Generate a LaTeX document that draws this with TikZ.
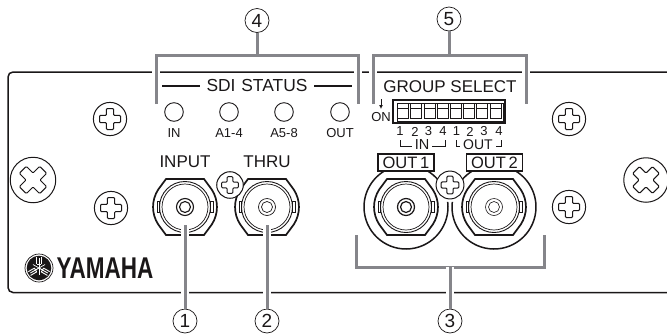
\documentclass[tikz,border=0pt]{standalone}
\usepackage{fontspec}
\usetikzlibrary{arrows.meta}
\setmainfont{Liberation Sans}
\definecolor{leadgray}{HTML}{85858A}
\definecolor{ink}{HTML}{1A1718}
\newcommand{\fs}[1]{\fontsize{#1}{#1}\selectfont}
\def\ringw{1.1pt}
\tikzset{
  x=1pt,y=1pt,
  panel/.style={draw=ink,line width=1.5pt},
  leader/.style={draw=leadgray,line width=3pt,preaction={draw=white,line width=8pt}},
  callout/.style={circle,draw=ink,line width=.7pt,fill=white,minimum size=24pt,inner sep=0pt,font=\fs{19}\color{ink}},
  lbl/.style={inner sep=0pt,text=ink},
  big/.style={lbl,font=\fs{17}},
  small/.style={lbl,font=\fs{13}},
  outbox/.style={draw=ink,line width=1.1pt,fill=white,inner sep=0pt,minimum width=56pt,minimum height=17pt,font=\fs{16.5},text=ink},
  screwhead/.pic={
    \draw[ink,line width=1pt,fill=white] (0,0) circle[radius=16.6];
    \draw[ink,line width=1pt,rounded corners=1pt] (-3.6,-3.6)--(-10.5,-3.6)--(-10.5,3.6)--(-3.6,3.6)--(-3.6,10.5)--(3.6,10.5)--(3.6,3.6)--(10.5,3.6)--(10.5,-3.6)--(3.6,-3.6)--(3.6,-10.5)--(-3.6,-10.5)--cycle;
  },
  bnc/.pic={
    \draw[ink,line width=1.7pt,fill=white] (-19,28)--(19,28)--(26.8,17.4) arc[start angle=33,end angle=-33,radius=32]--(19,-28)--(-19,-28)--(-26.8,-17.4) arc[start angle=213,end angle=147,radius=32]--cycle;
    \draw[ink,line width=.9pt] (0,0) circle[radius=25.5];
    \draw[ink,line width=.7pt] (0,0) circle[radius=23];
    \draw[ink,line width=.7pt,fill=white] (-28,-5.5) rectangle (-25.5,5.5) (25.5,-5.5) rectangle (28,5.5);
    \draw[ink,line width=\ringw] (0,0) circle[radius=8.5];
    \draw[ink,line width=\ringw] (0,0) circle[radius=5.5];
  },
}
\begin{document}
\begin{tikzpicture}
\useasboundingbox (0,0) rectangle (667,-333);
% panel
\draw[panel,rounded corners=5pt] (667,-72)--(8,-72)--(8,-292.5)--(667,-292.5);
% brackets
\coordinate (b4l) at (156,-104); \coordinate (b4r) at (358,-104); \coordinate (b4t) at (257,-55);
\coordinate (b5l) at (373,-104); \coordinate (b5r) at (526,-104); \coordinate (b5t) at (449,-55);
\coordinate (b3l) at (356,-235); \coordinate (b3r) at (544,-235); \coordinate (b3t) at (450,-267);
\draw[leader] (b4l)|-(b4t)-|(b4r);
\draw[leader] (b5l)|-(b5t)-|(b5r);
% screws
\pic at (110,-119) {screwhead};
\pic at (111,-208) {screwhead};
\pic at (569,-119) {screwhead};
\pic at (569,-207) {screwhead};
\pic[scale=1.37,rotate=45] at (33,-180) {screwhead};
\pic[scale=1.34,rotate=45] at (646,-180) {screwhead};
% connectors
\pic at (185,-207) {bnc};
\def\ringw{.7pt}
\pic at (267,-207) {bnc};
\def\ringw{1.2pt}
\pic at (406,-207) {bnc};
\def\ringw{.6pt}
\pic at (494,-207) {bnc};
\draw[ink,line width=1.5pt] (406,-207)++(7:42) arc[start angle=7,end angle=-239,radius=42];
\draw[ink,line width=1.5pt] (406,-207)++(59:42) arc[start angle=59,end angle=40,radius=42];
\draw[ink,line width=1.5pt] (494,-207)++(173:42) arc[start angle=173,end angle=419,radius=42];
\draw[ink,line width=1.5pt] (494,-207)++(121:42) arc[start angle=121,end angle=140,radius=42];
\pic[scale=.8] at (230,-185) {screwhead};
\pic[scale=.84] at (450,-185) {screwhead};
\node[outbox] (o1) at (406,-162.5) {OUT\,1};
\node[outbox] (o2) at (494.5,-162.5) {OUT\,2};
% bracket 3
\draw[leader] (b3l)|-(b3t)-|(b3r);
% callouts and leaders
\node[callout] (c1) at (185,-321) {1};
\node[callout] (c2) at (267,-321) {2};
\node[callout] (c3) at (450,-321) {3};
\node[callout] (c4) at (257,-20.5) {4};
\node[callout] (c5) at (449,-19) {5};
\coordinate (e1) at (185,-225);
\coordinate (e2) at (267,-225);
\draw[leader] (c1)--(e1);
\draw[leader] (c2)--(e2);
\draw[leader] (c3)--(b3t);
\draw[leadgray,line width=3pt] (c4)--(b4t);
\draw[leadgray,line width=3pt] (c5)--(b5t);
% SDI status
\node[lbl,font=\fs{17.4}] (sdi) at (257,-86) {SDI\,\,STATUS};
\coordinate (s1) at (162,-86); \coordinate (s2) at (352,-86);
\draw[ink,line width=1.3pt] (s1)--(200,-86) (314,-86)--(s2);
\foreach \x/\t/\n in {174/IN/a,229/A1-4/b,284/A5-8/c,340/OUT/d}{
  \draw[ink,line width=.9pt] (\x,-112) circle[radius=9.3];
  \node[small] (led\n) at (\x,-133) {\t};
}
% group select
\node[big] (grp) at (450,-86.5) {GROUP SELECT};
\node[small] (on) at (381,-117) {ON};
\coordinate (onT) at (381,-99);
\draw[ink,line width=.9pt,-{Latex[length=4pt,width=4pt]}] (onT)--(381,-109);
\draw[ink,line width=1.5pt] (393,-100) rectangle (505,-123);
\draw[ink,line width=.7pt] (397,-103) rectangle (503,-121);
\foreach \i in {0,...,7}{
  \pgfmathsetmacro{\xa}{397.5+\i*13.2}
  \pgfmathsetmacro{\xb}{\xa+11}
  \draw[ink,line width=.8pt] (\xa,-103) rectangle (\xb,-118);
  \draw[ink,line width=.8pt] (\xa,-108)--(\xb,-108);
}
\foreach \x/\t/\n in {400/1/a,415/2/b,428.5/3/c,443/4/d,456.5/1/e,470/2/f,484/3/g,499/4/h}{
  \node[small] (num\n) at (\x,-131.5) {\t};
}
\node[lbl,font=\fs{14.5}] (inl) at (422,-144.5) {IN};
\node[lbl,font=\fs{14}] (outl) at (478,-144.5) {OUT};
\draw[ink,line width=.9pt] (400,-140)--(400,-146.5)--(412,-146.5)
  (432,-146.5)--(445,-146.5)--(445,-140)
  (456,-140)--(456,-146.5)--(460,-146.5)
  (496,-146.5)--(501,-146.5)--(501,-140);
% labels
\node[big] (inp) at (185,-162) {INPUT};
\node[big] (thr) at (267,-162) {THRU};
% yamaha
\draw[ink,line width=.7pt] (39,-268) circle[radius=14];
\fill[ink] (39,-268) circle[radius=12.3];
\foreach \a in {90,210,330}{
  \begin{scope}[shift={(39,-268)},rotate=\a]
    \draw[white,line width=.9pt] (0,0)--(10,0);
    \draw[white,line width=.9pt] (4,-2.2)--(11,-2.2) (4,2.2)--(11,2.2) (4,-2.2)--(4,2.2);
  \end{scope}
  \begin{scope}[shift={(39,-268)},rotate=\a+180]
    \draw[white,line width=.7pt] (0,0)--(7,0);
  \end{scope}
}
\node[inner sep=0pt,text=ink,anchor=west] (yam) at (56.5,-268) {\scalebox{.75}[1]{\fs{30}\bfseries YAMAHA}};
\end{tikzpicture}
\end{document}
